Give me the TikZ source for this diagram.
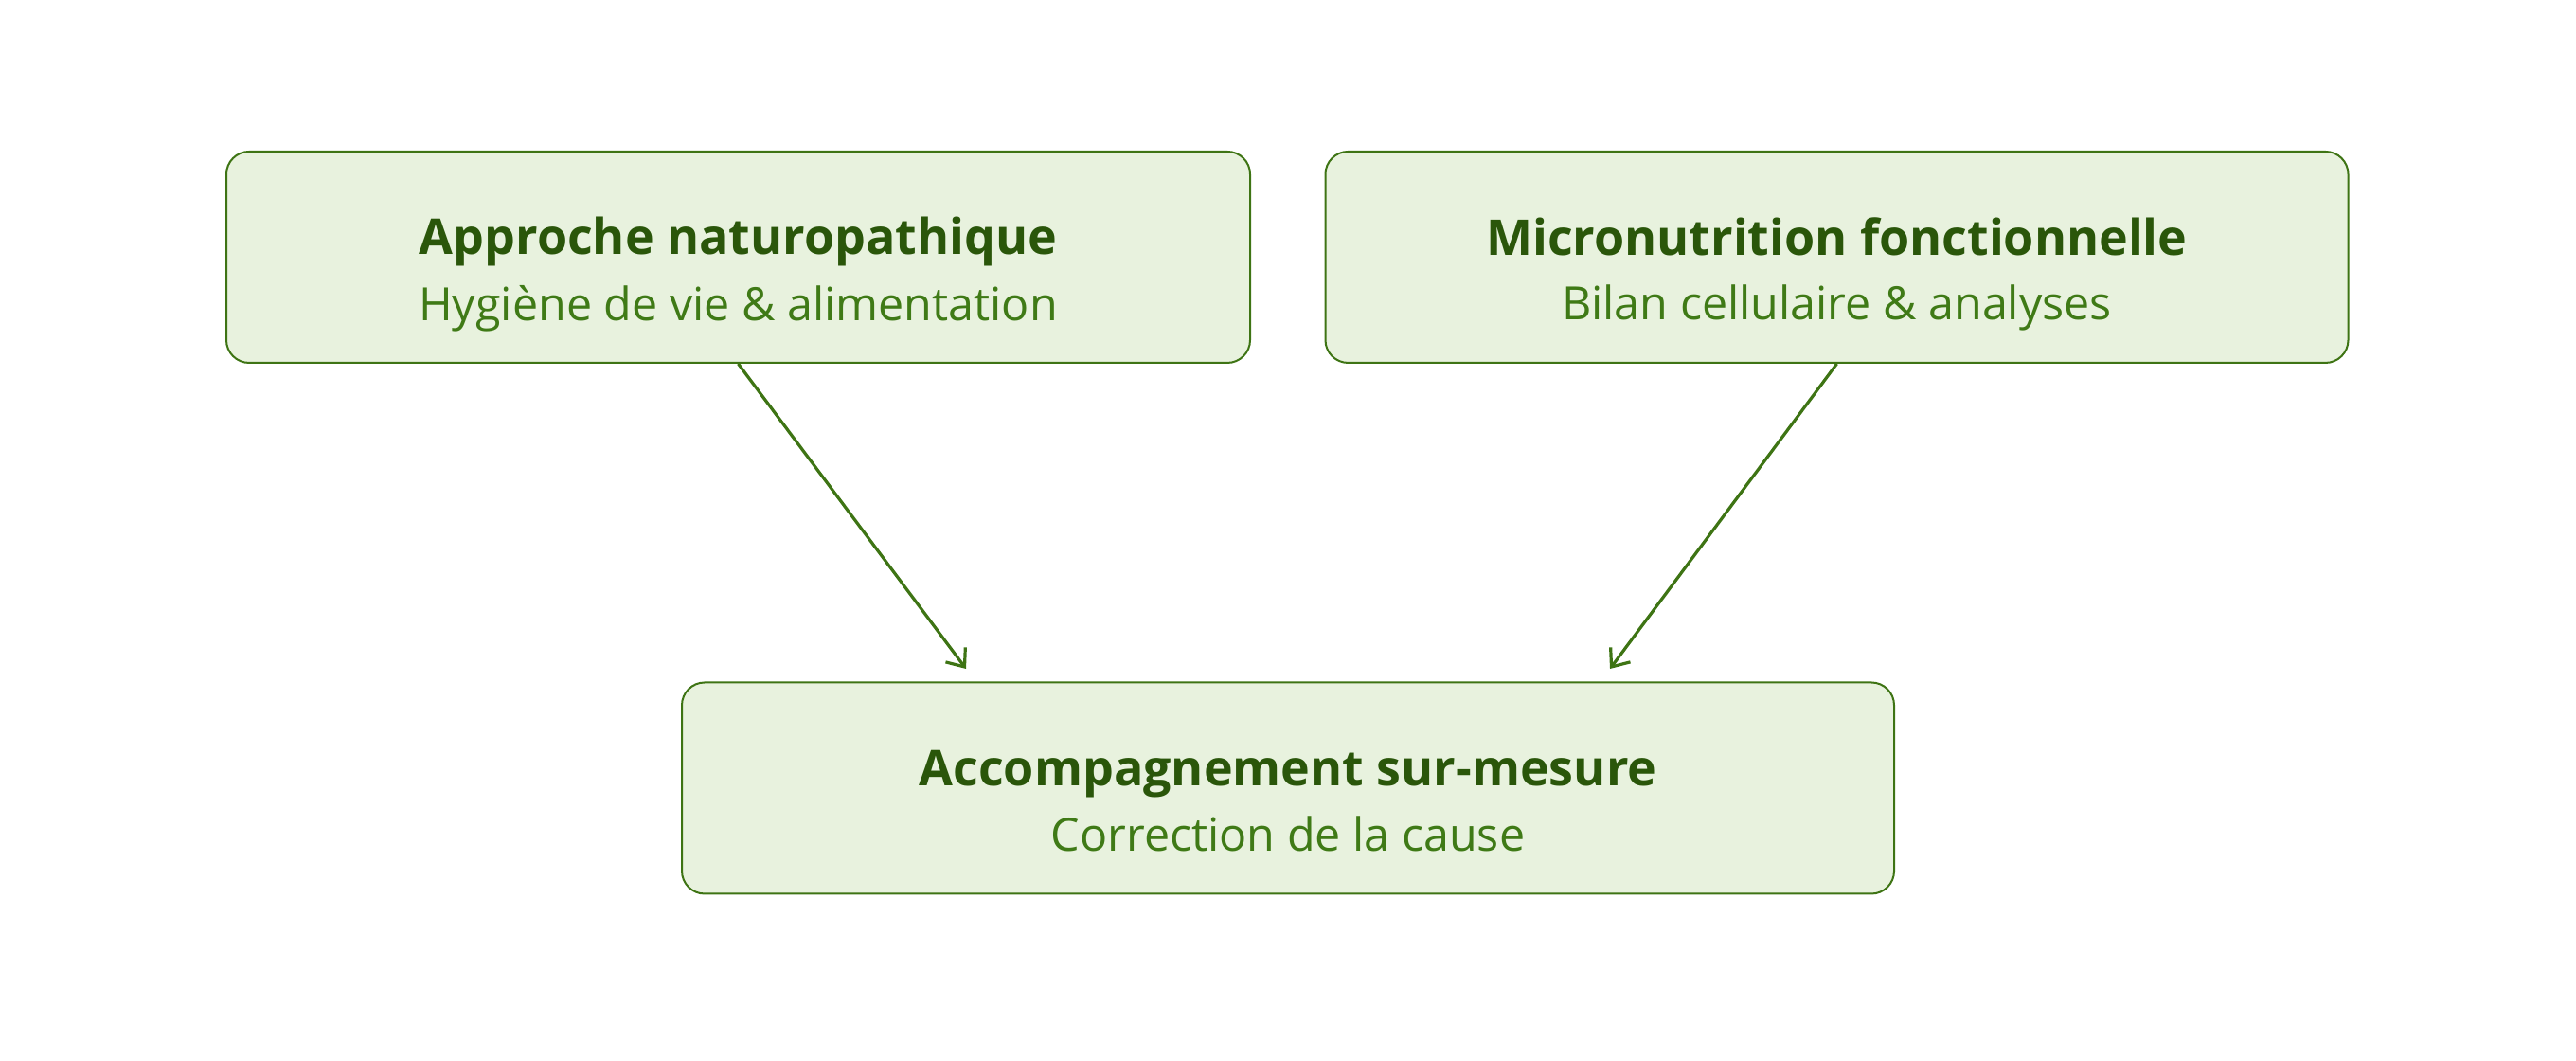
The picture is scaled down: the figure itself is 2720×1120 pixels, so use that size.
\documentclass[tikz,border=0pt]{standalone}
\usepackage{fontspec}
\setmainfont{Open Sans}
\usetikzlibrary{arrows.meta}
\definecolor{boxfill}{HTML}{E8F2DE}
\definecolor{boxline}{HTML}{3E7414}
\definecolor{titlecol}{HTML}{2A560A}
\definecolor{subcol}{HTML}{3F7A16}
% titre + sous-titre d'une boite
\newcommand{\boxlabel}[2]{%
  \rule[-4pt]{0pt}{23.5pt}{\fontsize{13}{15}\selectfont\bfseries\color{titlecol}#1}\\[3pt]
  \rule[-3.5pt]{0pt}{3.5pt}{\fontsize{12.1}{13}\selectfont\color{subcol}#2}}
\begin{document}
\begin{tikzpicture}[x=0.25pt,y=0.25pt,>={Straight Barb[length=4pt,width=6.5pt]},
  stepbox/.style={draw=boxline,fill=boxfill,line width=0.5pt,rounded corners=6pt,
    align=center,minimum height=55.75pt,inner sep=0pt},
  arr/.style={->,draw=boxline,line width=0.8pt}]
  \useasboundingbox (0,0) rectangle (2720,1120);
  \node[stepbox,minimum width=270.25pt] (natu) at (779.5,848.5)
    {\boxlabel{Approche naturopathique}{Hygiène de vie \& alimentation}};
  \node[stepbox,minimum width=270pt] (micro) at (1939.5,848.5)
    {\boxlabel{Micronutrition fonctionnelle}{Bilan cellulaire \& analyses}};
  \node[stepbox,minimum width=320pt] (accomp) at (1360,288)
    {\boxlabel{Accompagnement sur-mesure}{Correction de la cause}};

  % les deux approches convergent vers l'accompagnement
  \coordinate (inL) at (1020,414);
  \coordinate (inR) at (1700,414);
  \draw[arr] (natu.south) -- (inL);
  \draw[arr] (micro.south) -- (inR);
\end{tikzpicture}
\end{document}
